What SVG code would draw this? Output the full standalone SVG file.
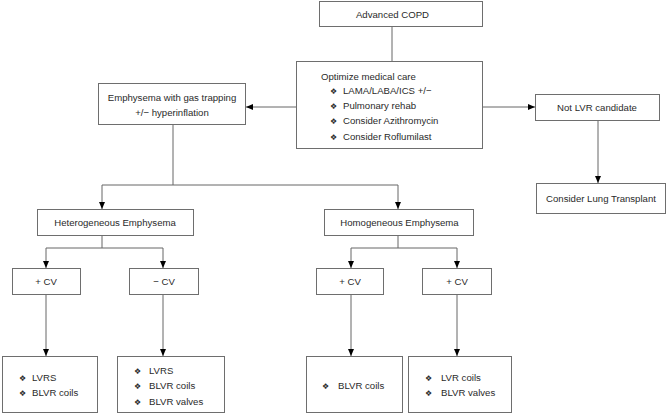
<svg xmlns="http://www.w3.org/2000/svg" width="669" height="414" viewBox="0 0 669 414">
<style>
.box{fill:#fff;stroke:#6e6e6e;stroke-width:1}
.t{font-family:"Liberation Sans",Arial,sans-serif;font-size:9.6px;fill:#2a2a2a}
.c{text-anchor:middle}
.b{font-family:"DejaVu Sans",sans-serif;font-size:8px;fill:#2a2a2a}
.ln{fill:none;stroke:#666;stroke-width:1}
</style>
<defs>
<marker id="ah" markerUnits="userSpaceOnUse" markerWidth="8" markerHeight="8" refX="7" refY="3.5" orient="auto">
<path d="M0,0.5 L7,3.5 L0,6.5 Z" fill="#000"/>
</marker>
</defs>
<rect width="669" height="414" fill="#fff"/>
<g id="connectors">
<path class="ln" d="M392,26 V61"/>
<path class="ln" d="M296,107 H246" marker-end="url(#ah)"/>
<path class="ln" d="M482,107 H535" marker-end="url(#ah)"/>
<path class="ln" d="M598,120 V183" marker-end="url(#ah)"/>
<path class="ln" d="M173,124 V185"/>
<path class="ln" d="M102,185 H398"/>
<path class="ln" d="M102,185 V209" marker-end="url(#ah)"/>
<path class="ln" d="M398,185 V209" marker-end="url(#ah)"/>
<path class="ln" d="M102,235 V248"/>
<path class="ln" d="M46,248 H163"/>
<path class="ln" d="M46,248 V268" marker-end="url(#ah)"/>
<path class="ln" d="M163,248 V268" marker-end="url(#ah)"/>
<path class="ln" d="M398,235 V248"/>
<path class="ln" d="M351,248 H457"/>
<path class="ln" d="M351,248 V268" marker-end="url(#ah)"/>
<path class="ln" d="M457,248 V268" marker-end="url(#ah)"/>
<path class="ln" d="M46,294 V356" marker-end="url(#ah)"/>
<path class="ln" d="M163,294 V356" marker-end="url(#ah)"/>
<path class="ln" d="M351,294 V356" marker-end="url(#ah)"/>
<path class="ln" d="M457,294 V356" marker-end="url(#ah)"/>
</g>
<g id="advanced-copd">
<rect class="box" x="319.5" y="1.5" width="163" height="25"/>
<text class="t c" x="392.5" y="17.5">Advanced COPD</text>
</g>
<g id="optimize">
<rect class="box" x="296.5" y="61.5" width="186" height="87"/>
<text class="t" x="321" y="79.5">Optimize medical care</text>
<text class="b" x="330" y="93.5">❖</text><text class="t" x="343" y="93.5">LAMA/LABA/ICS +/−</text>
<text class="b" x="330" y="109">❖</text><text class="t" x="343" y="109">Pulmonary rehab</text>
<text class="b" x="330" y="124">❖</text><text class="t" x="343" y="124">Consider Azithromycin</text>
<text class="b" x="330" y="139.5">❖</text><text class="t" x="343" y="139.5">Consider Roflumilast</text>
</g>
<g id="emphysema">
<rect class="box" x="98.5" y="83.5" width="147" height="41"/>
<text class="t c" x="172" y="100.5">Emphysema with gas trapping</text>
<text class="t c" x="172" y="115.5">+/− hyperinflation</text>
</g>
<g id="not-lvr">
<rect class="box" x="535.5" y="94.5" width="124" height="26"/>
<text class="t c" x="597" y="110.5">Not LVR candidate</text>
</g>
<g id="lung-transplant">
<rect class="box" x="536.5" y="183.5" width="129" height="30"/>
<text class="t c" x="601" y="201.5">Consider Lung Transplant</text>
</g>
<g id="heterogeneous">
<rect class="box" x="37.5" y="209.5" width="156" height="26"/>
<text class="t c" x="115" y="225.5">Heterogeneous Emphysema</text>
</g>
<g id="homogeneous">
<rect class="box" x="324.5" y="209.5" width="149" height="26"/>
<text class="t c" x="399.5" y="225.5">Homogeneous Emphysema</text>
</g>
<g id="het-plus-cv">
<rect class="box" x="12.5" y="268.5" width="68" height="26"/>
<text class="t c" x="46" y="284.5">+ CV</text>
</g>
<g id="het-minus-cv">
<rect class="box" x="129.5" y="268.5" width="69" height="26"/>
<text class="t c" x="164" y="284.5">− CV</text>
</g>
<g id="hom-plus-cv-1">
<rect class="box" x="316.5" y="268.5" width="67" height="26"/>
<text class="t c" x="350" y="284.5">+ CV</text>
</g>
<g id="hom-plus-cv-2">
<rect class="box" x="422.5" y="268.5" width="69" height="26"/>
<text class="t c" x="457" y="284.5">+ CV</text>
</g>
<g id="out-1">
<rect class="box" x="2.5" y="356.5" width="95" height="56"/>
<text class="b" x="19" y="380.5">❖</text><text class="t" x="32" y="380.5">LVRS</text>
<text class="b" x="19" y="395.5">❖</text><text class="t" x="32" y="395.5">BLVR coils</text>
</g>
<g id="out-2">
<rect class="box" x="117.5" y="356.5" width="107" height="56"/>
<text class="b" x="134" y="373.5">❖</text><text class="t" x="149" y="373.5">LVRS</text>
<text class="b" x="134" y="389">❖</text><text class="t" x="149" y="389">BLVR coils</text>
<text class="b" x="134" y="404.5">❖</text><text class="t" x="149" y="404.5">BLVR valves</text>
</g>
<g id="out-3">
<rect class="box" x="306.5" y="356.5" width="96" height="56"/>
<text class="b" x="322" y="388.5">❖</text><text class="t" x="338" y="388.5">BLVR coils</text>
</g>
<g id="out-4">
<rect class="box" x="408.5" y="356.5" width="103" height="56"/>
<text class="b" x="425" y="380.5">❖</text><text class="t" x="441" y="380.5">LVR coils</text>
<text class="b" x="425" y="395.5">❖</text><text class="t" x="441" y="395.5">BLVR valves</text>
</g>
</svg>
